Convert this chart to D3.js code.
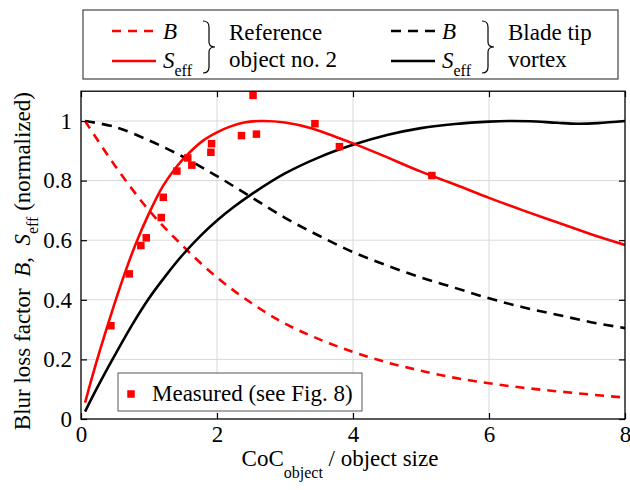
<!DOCTYPE html>
<html><head><meta charset="utf-8">
<script src="https://cdn.jsdelivr.net/npm/d3@7"></script>
<style>
body{margin:0;background:#fff}
svg{display:block}
svg text{font-family:"Liberation Serif","DejaVu Serif","Times New Roman",serif !important;fill:#000}
</style>
</head><body>
<svg id="chart" width="630" height="490" font-family="Liberation Serif, DejaVu Serif, serif"></svg>
<script>
// Axis ticks
const xTicks = [0, 2, 4, 6, 8];
const yTicks = [0, 0.2, 0.4, 0.6, 0.8, 1];

// Reference object no. 2: blur loss factor B and effective signal S_eff
const refB = [[0.06,1.0],[0.5,0.85],[1.0,0.70],[1.5,0.58],[2.0,0.475],[2.5,0.39],[3.0,0.32],[3.5,0.268],[4.0,0.225],[4.5,0.19],[5.0,0.162],[5.5,0.138],[6.0,0.12],[6.5,0.105],[7.0,0.093],[7.5,0.082],[8.0,0.072]];
const refS = [[0.06,0.055],[0.2,0.17],[0.4,0.32],[0.6,0.46],[0.8,0.585],[1.0,0.69],[1.2,0.78],[1.4,0.845],[1.6,0.895],[1.8,0.935],[2.0,0.962],[2.2,0.982],[2.4,0.995],[2.65,1.0],[3.0,0.995],[3.4,0.975],[3.8,0.942],[4.0,0.925],[4.4,0.888],[5.0,0.83],[5.5,0.787],[6.0,0.742],[6.5,0.70],[7.0,0.66],[7.5,0.62],[8.0,0.584]];

// Blade tip vortex: B and S_eff
const tipB = [[0.06,1.0],[0.5,0.98],[1.0,0.935],[1.5,0.88],[2.0,0.815],[2.5,0.745],[3.0,0.675],[3.5,0.615],[4.0,0.56],[4.5,0.515],[5.0,0.475],[5.5,0.44],[6.0,0.405],[6.5,0.375],[7.0,0.35],[7.5,0.325],[8.0,0.305]];
const tipS = [[0.06,0.025],[0.25,0.11],[0.5,0.215],[0.75,0.315],[1.0,0.405],[1.25,0.482],[1.5,0.552],[1.75,0.613],[2.0,0.666],[2.25,0.712],[2.5,0.753],[3.0,0.824],[3.5,0.878],[4.0,0.92],[4.5,0.953],[5.0,0.976],[5.5,0.99],[6.0,0.998],[6.3,1.0],[6.6,0.999],[7.0,0.994],[7.3,0.991],[7.6,0.993],[8.0,1.0]];

// Measured points (reference object no. 2)
const measX = [0.44,0.71,0.88,0.96,1.18,1.21,1.41,1.57,1.63,1.91,1.92,2.36,2.53,2.58,3.44,3.80,5.16];
const measY = [0.313,0.487,0.582,0.608,0.676,0.744,0.832,0.876,0.852,0.895,0.924,0.951,1.086,0.956,0.991,0.914,0.817];

const FONT = '"Liberation Serif","DejaVu Serif",serif';
const svg = d3.select("#chart");
const L = 81, R = 625, B = 419;
const x = d3.scaleLinear().domain([0, 8]).range([L, R]);
const y = d3.scaleLinear().domain([0, 1.1]).range([B, B - 1.1 * 298]);
const T = y(1.1);

// grid
const grid = svg.append("g").attr("stroke", "#d9d9d9").attr("stroke-width", 1);
xTicks.filter(d => d > 0 && d < 8).forEach(d =>
  grid.append("line").attr("x1", x(d)).attr("x2", x(d)).attr("y1", T).attr("y2", B));
yTicks.filter(d => d > 0).forEach(d =>
  grid.append("line").attr("x1", L).attr("x2", R).attr("y1", y(d)).attr("y2", y(d)));

// clip for curves
svg.append("clipPath").attr("id", "plotclip").append("rect")
  .attr("x", L).attr("y", T).attr("width", R - L).attr("height", B - T);

const line = d3.line().x(d => x(d[0])).y(d => y(d[1])).curve(d3.curveCatmullRom.alpha(0.5));
const curves = svg.append("g").attr("clip-path", "url(#plotclip)").attr("fill", "none");
curves.append("path").attr("d", line(tipB)).attr("stroke", "#000").attr("stroke-width", 2.6).attr("stroke-dasharray", "10,7");
curves.append("path").attr("d", line(refB)).attr("stroke", "#ff0000").attr("stroke-width", 2.6).attr("stroke-dasharray", "9,7");
curves.append("path").attr("d", line(tipS)).attr("stroke", "#000").attr("stroke-width", 2.6);
curves.append("path").attr("d", line(refS)).attr("stroke", "#ff0000").attr("stroke-width", 2.6);

// measured markers
const ms = 7.5;
svg.append("g").selectAll("rect").data(measX).join("rect")
  .attr("x", d => x(d) - ms / 2).attr("y", (d, i) => y(measY[i]) - ms / 2)
  .attr("width", ms).attr("height", ms).attr("fill", "#ff0000");

// axes with inward ticks
const fmt = d => d3.format("~g")(d);
const ax = svg.append("g").attr("transform", `translate(0,${B})`)
  .call(d3.axisBottom(x).tickValues(xTicks).tickFormat(fmt).tickSizeInner(-6).tickSizeOuter(0).tickPadding(7));
const ay = svg.append("g").attr("transform", `translate(${L},0)`)
  .call(d3.axisLeft(y).tickValues(yTicks).tickFormat(fmt).tickSizeInner(-6).tickSizeOuter(0).tickPadding(9));
const axT = svg.append("g").attr("transform", `translate(0,${T})`)
  .call(d3.axisTop(x).tickValues(xTicks).tickFormat("").tickSizeInner(-6).tickSizeOuter(0));
const ayR = svg.append("g").attr("transform", `translate(${R},0)`)
  .call(d3.axisRight(y).tickValues(yTicks).tickFormat("").tickSizeInner(-6).tickSizeOuter(0));
[ax, ay, axT, ayR].forEach(g => {
  g.attr("font-family", FONT).attr("font-size", 23);
  g.select(".domain").remove();
  g.selectAll("line").attr("stroke", "#000").attr("stroke-width", 1.2);
  g.selectAll("text").attr("font-size", 23).attr("font-family", FONT).attr("fill", "#000");
});

// frame
svg.append("rect").attr("x", L).attr("y", T).attr("width", R - L).attr("height", B - T)
  .attr("fill", "none").attr("stroke", "#000").attr("stroke-width", 1.3);

// axis titles
const xt = svg.append("text").attr("x", 340).attr("y", 466).attr("text-anchor", "middle")
  .attr("font-size", 23).attr("font-family", FONT);
xt.append("tspan").text("CoC");
xt.append("tspan").attr("font-size", 16).attr("dy", 12).text("object");
xt.append("tspan").attr("dy", -12).text(" / object size");

const yt = svg.append("text").attr("transform", `translate(30,${(T + B) / 2 + 6}) rotate(-90)`)
  .attr("text-anchor", "middle").attr("font-size", 23).attr("font-family", FONT);
yt.append("tspan").text("Blur loss factor\u00a0\u00a0");
yt.append("tspan").attr("font-style", "italic").text("B");
yt.append("tspan").text(",\u00a0\u00a0");
yt.append("tspan").attr("font-style", "italic").text("S");
yt.append("tspan").attr("font-size", 16).attr("dy", 8).text("eff");
yt.append("tspan").attr("dy", -8).text(" (normalized)");

// top legend
const lg = svg.append("g").attr("font-family", FONT);
lg.append("rect").attr("x", 83).attr("y", 10).attr("width", 535).attr("height", 69)
  .attr("fill", "#fff").attr("stroke", "#444").attr("stroke-width", 1.2);

function brace(g, bx, y0, y1) {
  const xm = bx + 6, tip = bx + 12, ym = (y0 + y1) / 2;
  g.append("path").attr("fill", "none").attr("stroke", "#000").attr("stroke-width", 1.2)
    .attr("d", `M${bx},${y0} Q${xm},${y0} ${xm},${y0 + 6} L${xm},${ym - 5} Q${xm},${ym} ${tip},${ym} Q${xm},${ym} ${xm},${ym + 5} L${xm},${y1 - 6} Q${xm},${y1} ${bx},${y1}`);
}

function legendGroup(x0, color, dash, label1, label2) {
  lg.append("line").attr("x1", x0).attr("x2", x0 + 44).attr("y1", 31).attr("y2", 31)
    .attr("stroke", color).attr("stroke-width", 2.6).attr("stroke-dasharray", dash);
  lg.append("line").attr("x1", x0).attr("x2", x0 + 44).attr("y1", 61).attr("y2", 61)
    .attr("stroke", color).attr("stroke-width", 2.6);
  lg.append("text").attr("x", x0 + 51).attr("y", 39).attr("font-size", 23).attr("font-style", "italic").text("B");
  const s = lg.append("text").attr("x", x0 + 51).attr("y", 68).attr("font-size", 23);
  s.append("tspan").attr("font-style", "italic").text("S");
  s.append("tspan").attr("font-size", 16).attr("dy", 8).text("eff");
  brace(lg, x0 + 91, 21, 73);
  lg.append("text").attr("x", x0 + 117).attr("y", 40).attr("font-size", 23).text(label1);
  lg.append("text").attr("x", x0 + 117).attr("y", 67).attr("font-size", 23).text(label2);
}
legendGroup(112, "#ff0000", "9,7", "Reference", "object no. 2");
legendGroup(391, "#000", "10,7", "Blade tip", "vortex");

// bottom legend
const bl = svg.append("g").attr("font-family", FONT);
bl.append("rect").attr("x", 118).attr("y", 373).attr("width", 244).attr("height", 38)
  .attr("fill", "#fff").attr("stroke", "#555").attr("stroke-width", 1);
bl.append("rect").attr("x", 131 - ms / 2).attr("y", 394 - ms / 2).attr("width", ms).attr("height", ms).attr("fill", "#ff0000");
bl.append("text").attr("x", 152).attr("y", 401).attr("font-size", 23).text("Measured (see Fig. 8)");
</script>
</body></html>
